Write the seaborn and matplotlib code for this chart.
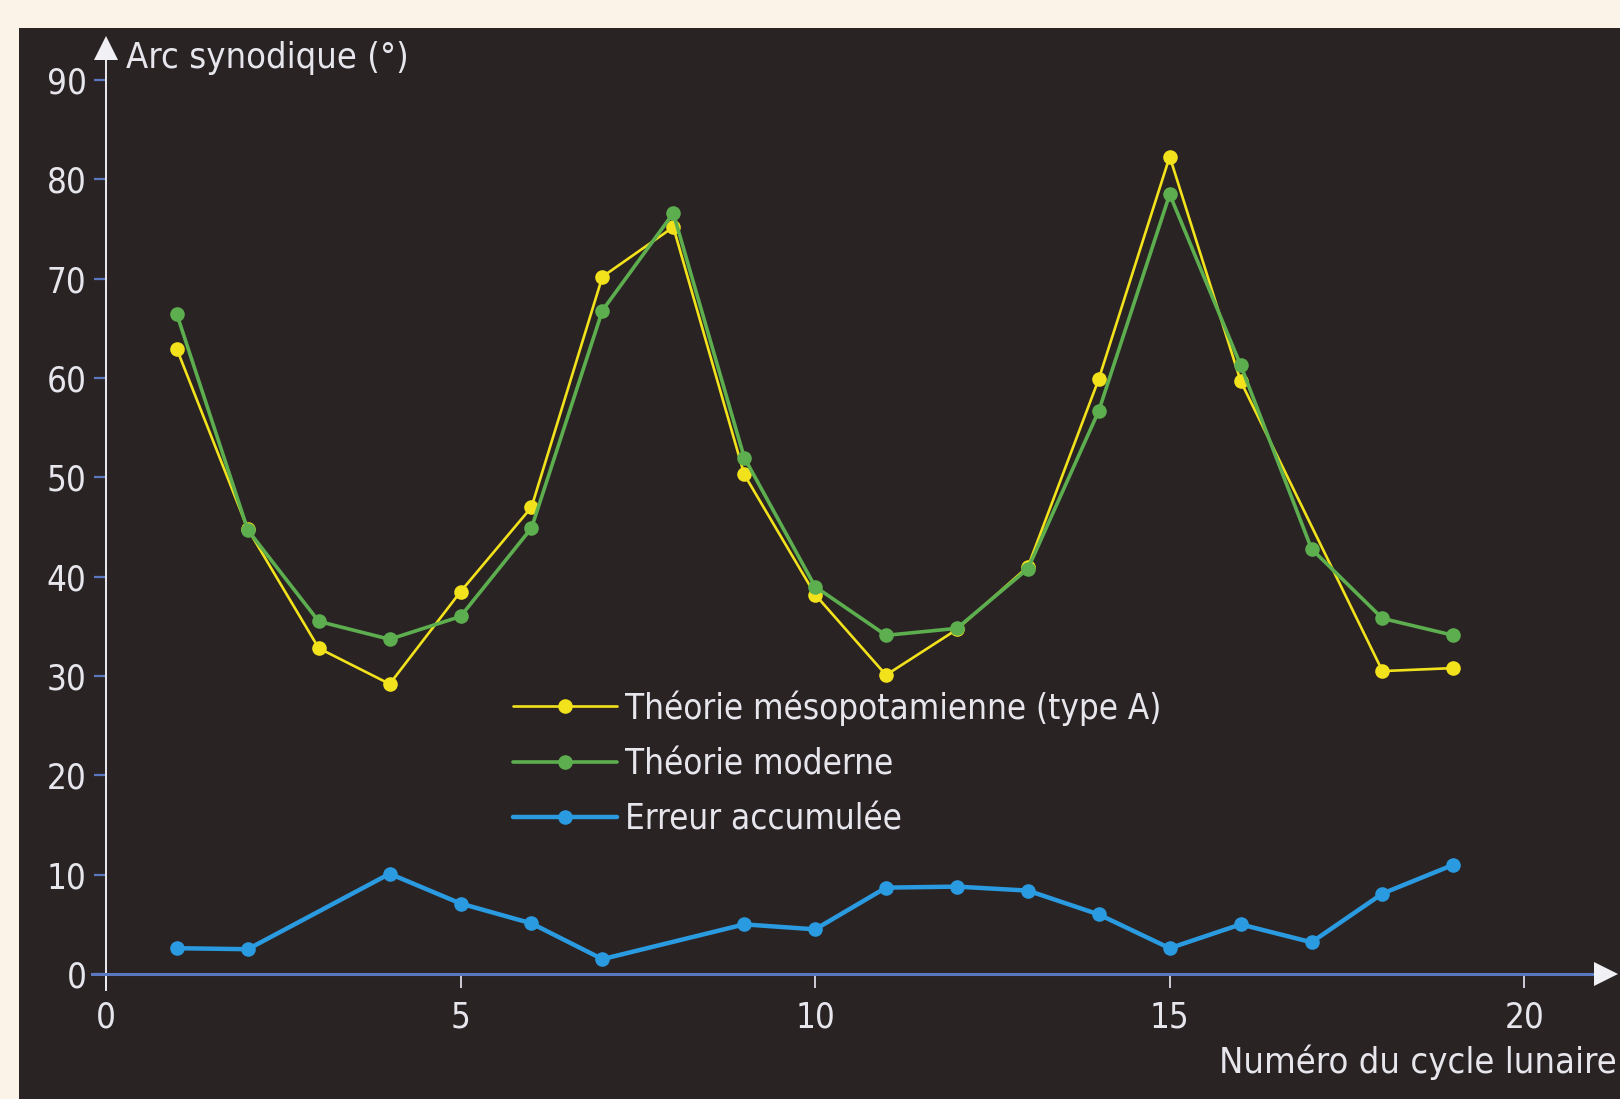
import matplotlib
matplotlib.use('Agg')
import numpy as np
import pandas as pd
import matplotlib.pyplot as plt
import seaborn as sns

# 데이터
cycles = list(range(1, 20))
meso_x = [1, 2, 3, 4, 5, 6, 7, 8, 9, 10, 11, 12, 13, 14, 15, 16, 18, 19]
meso = [62.9, 44.8, 32.8, 29.2, 38.5, 47.0, 70.2, 75.2, 50.3, 38.2, 30.1, 34.7, 41.0, 59.9, 82.3, 59.7, 30.5, 30.8]
modern = [66.4, 44.7, 35.5, 33.7, 36.0, 44.9, 66.8, 76.6, 52.0, 39.0, 34.1, 34.8, 40.8, 56.7, 78.5, 61.3, 42.8, 35.8, 34.1]
err_x = [1, 2, 4, 5, 6, 7, 9, 10, 11, 12, 13, 14, 15, 16, 17, 18, 19]
err = [2.6, 2.5, 10.1, 7.1, 5.1, 1.5, 5.0, 4.5, 8.7, 8.8, 8.4, 6.0, 2.6, 5.0, 3.2, 8.1, 11.0]

labels = ['Théorie mésopotamienne (type A)', 'Théorie moderne', 'Erreur accumulée']
x_ticks = [0, 5, 10, 15, 20]
y_ticks = list(range(0, 100, 10))

cream = '#fcf3e8'
dark = '#2a2324'
yellow = '#f2e21c'
green = '#5cae4f'
blue = '#2a9be0'
axis_blue = '#5a78c0'
txt = '#e6e6ec'

sns.set_theme(style='white')
plt.rcParams['font.family'] = ['DejaVu Sans']
plt.rcParams['font.stretch'] = 'condensed'

df_meso = pd.DataFrame({'x': meso_x, 'y': meso})
df_mod = pd.DataFrame({'x': cycles, 'y': modern})
df_err = pd.DataFrame({'x': err_x, 'y': err})

fig = plt.figure(figsize=(16.2, 10.99), dpi=100, facecolor=cream)
ax = fig.add_axes([19 / 1620, 0, 1 - 19 / 1620, 1 - 28 / 1099])
ax.set_facecolor(dark)

sns.lineplot(data=df_err, x='x', y='y', ax=ax, color=blue, lw=3.2, marker='o',
             ms=10.5, mew=0, label=labels[2], zorder=3)
sns.lineplot(data=df_meso, x='x', y='y', ax=ax, color=yellow, lw=1.9, marker='o',
             ms=10.5, mew=0, label=labels[0], zorder=4)
sns.lineplot(data=df_mod, x='x', y='y', ax=ax, color=green, lw=2.6, marker='o',
             ms=10.5, mew=0, label=labels[1], zorder=5)

ax.set_xlim(-1.227, 21.35)
ax.set_ylim(-12.58, 95.24)

# 축 설정
for s in ['top', 'right']:
    ax.spines[s].set_visible(False)
ax.spines['left'].set_position(('data', 0))
ax.spines['left'].set_bounds(-1.6, 92)
ax.spines['left'].set_color('#ececf2')
ax.spines['left'].set_linewidth(1.4)
ax.spines['bottom'].set_position(('data', 0))
ax.spines['bottom'].set_bounds(-0.2, 21.0)
ax.spines['bottom'].set_color(axis_blue)
ax.spines['bottom'].set_linewidth(2.2)
ax.plot([21.15], [0], marker='>', ms=17, color='#f0f0f5', mew=0, clip_on=False, zorder=6)
ax.plot([0], [93.2], marker='^', ms=17, color='#f0f0f5', mew=0, clip_on=False, zorder=6)

ax.set_xticks(x_ticks)
ax.set_yticks(y_ticks)
ax.tick_params(axis='x', bottom=True, direction='out', length=10, width=1.3,
               color='#dcdce4', labelsize=25, labelcolor=txt, pad=9)
ax.tick_params(axis='y', left=True, direction='out', length=9, width=1.6,
               color=axis_blue, labelsize=25, labelcolor=txt, pad=5)
ax.set_xlabel('')
ax.set_ylabel('')

ax.text(0.28, 92.2, 'Arc synodique (°)', fontsize=26, color=txt, ha='left', va='center')
ax.text(21.31, -8.9, 'Numéro du cycle lunaire', fontsize=26, color=txt, ha='right', va='center')

handles, labs = ax.get_legend_handles_labels()
order = [labs.index(l) for l in labels]
ax.legend([handles[i] for i in order], [labs[i] for i in order],
          loc='upper left', bbox_to_anchor=(513 / 1620, 1 - 690 / 1099),
          bbox_transform=fig.transFigure, frameon=False, fontsize=25,
          labelcolor=txt, handlelength=3.0, handletextpad=0.22,
          labelspacing=0.62, borderpad=0, borderaxespad=0)

plt.savefig('out.png', dpi=100, facecolor=cream)
